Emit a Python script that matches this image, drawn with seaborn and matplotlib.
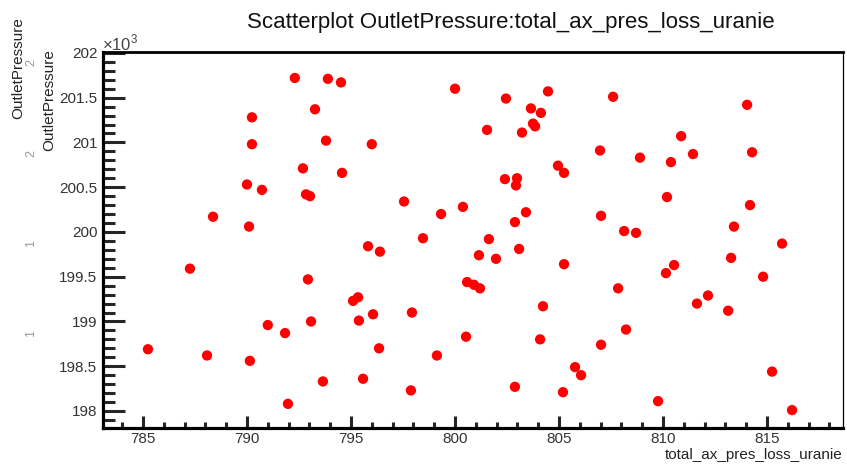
import matplotlib
matplotlib.use("Agg")
import matplotlib.pyplot as plt
import seaborn as sns
import pandas as pd
from matplotlib.ticker import MultipleLocator, FuncFormatter

# total_ax_pres_loss_uranie values
loss = [785.24, 787.26, 788.37, 788.08, 790.00, 790.24, 790.24, 790.10, 790.14, 790.72,
        791.00, 791.83, 791.97, 792.30, 792.69, 792.84, 793.03, 792.93, 793.08, 793.27,
        793.65, 793.89, 793.80, 794.52, 794.57, 795.10, 795.34, 795.38, 795.58, 795.82,
        796.00, 796.06, 796.35, 796.39, 797.55, 797.93, 797.88, 798.46, 799.13, 799.33,
        800.00, 800.38, 800.53, 800.58, 800.91, 801.20, 801.15, 801.54, 801.63, 801.97,
        802.40, 802.45, 802.88, 802.98, 802.93, 802.88, 803.08, 803.22, 803.41, 803.65,
        803.75, 803.85, 804.13, 804.09, 804.23, 804.47, 804.95, 805.24, 805.24, 805.19,
        805.77, 806.06, 806.97, 807.02, 807.02, 807.60, 807.84, 808.13, 808.22, 808.70,
        808.89, 809.76, 810.14, 810.19, 810.38, 810.53, 810.87, 811.44, 811.63, 812.16,
        813.13, 813.27, 813.41, 814.04, 814.18, 814.28, 814.81, 815.24, 815.72, 816.20]

# OutletPressure values
pressure = [198690, 199590, 200170, 198620, 200530, 201280, 200980, 200060, 198560, 200470,
            198960, 198870, 198080, 201720, 200710, 200420, 200400, 199470, 199000, 201370,
            198330, 201710, 201020, 201670, 200660, 199230, 199270, 199010, 198360, 199840,
            200980, 199080, 198700, 199780, 200340, 199100, 198230, 199930, 198620, 200200,
            201600, 200280, 198830, 199440, 199410, 199370, 199740, 201140, 199920, 199700,
            200590, 201490, 198270, 200600, 200520, 200110, 199810, 201110, 200220, 201380,
            201210, 201180, 201330, 198800, 199170, 201570, 200740, 200660, 199640, 198210,
            198490, 198400, 200910, 200180, 198740, 201510, 199370, 200010, 198910, 199990,
            200830, 198110, 199540, 200390, 200780, 199630, 201070, 200870, 199200, 199290,
            199120, 199710, 200060, 201420, 200300, 200890, 199500, 198440, 199870, 198010]

title = "Scatterplot OutletPressure:total_ax_pres_loss_uranie"
xlabel = "total_ax_pres_loss_uranie"
ylabel = "OutletPressure"

df = pd.DataFrame({xlabel: loss, ylabel: pressure})

sns.set_style("white")
plt.rcParams['font.family'] = ['Liberation Sans', 'DejaVu Sans']
plt.rcParams['mathtext.fontset'] = 'custom'
plt.rcParams['mathtext.rm'] = 'Liberation Sans'

fig = plt.figure(figsize=(8.47, 4.65), dpi=100)
ax = fig.add_axes([103/847, 1-428/465, (843-103)/847, (428-52)/465])

sns.scatterplot(data=df, x=xlabel, y=ylabel, ax=ax, color='#ff0000',
                s=55, edgecolor='none', linewidth=0)

ax.set_xlim(783.08, 818.65)
ax.set_ylim(197810, 202010)

ax.xaxis.set_major_locator(MultipleLocator(5))
ax.xaxis.set_minor_locator(MultipleLocator(1))
ax.yaxis.set_major_locator(MultipleLocator(500))
ax.yaxis.set_minor_locator(MultipleLocator(100))
ax.yaxis.set_major_formatter(FuncFormatter(lambda v, p: '%g' % (v/1000)))

ax.tick_params(axis='y', which='major', direction='in', length=16, width=2.2,
               labelsize=11, labelcolor='#333333', pad=4, left=True, right=False)
ax.tick_params(axis='y', which='minor', direction='in', length=8.5, width=2.2, left=True, right=False)
ax.tick_params(axis='x', which='major', direction='in', length=8.6, width=2.2,
               labelsize=11, labelcolor='#333333', pad=3, bottom=True, top=False)
ax.tick_params(axis='x', which='minor', direction='in', length=4.3, width=2.2, bottom=True, top=False)

for side, w in [('left', 2.3), ('bottom', 2.3), ('top', 2.0), ('right', 0.9)]:
    ax.spines[side].set_visible(True)
    ax.spines[side].set_color('black')
    ax.spines[side].set_linewidth(w)

ax.set_xlabel('')
ax.set_ylabel('')

fig.text(843/847, 1-459/465, xlabel, ha='right', va='baseline', fontsize=11, color='#222222')
fig.text(49/847, 1-100/465, ylabel, ha='center', va='center', rotation=90, fontsize=11, color='#222222')
fig.text(18/847, 1-68/465, ylabel, ha='center', va='center', rotation=90, fontsize=11, color='#222222')
for yy, t in [(62, '2'), (153, '2'), (243, '1'), (333, '1')]:
    fig.text(31/847, 1-yy/465, t, ha='center', va='center', rotation=90, fontsize=9, color='#999999')

fig.text(102/847, 1-50/465, r'$\times10^{3}$', ha='left', va='baseline', fontsize=12, color='#444444')
fig.text(510.5/847, 1-28/465, title, ha='center', va='baseline', fontsize=16, color='#111111')

fig.savefig('out.png', dpi=100)
